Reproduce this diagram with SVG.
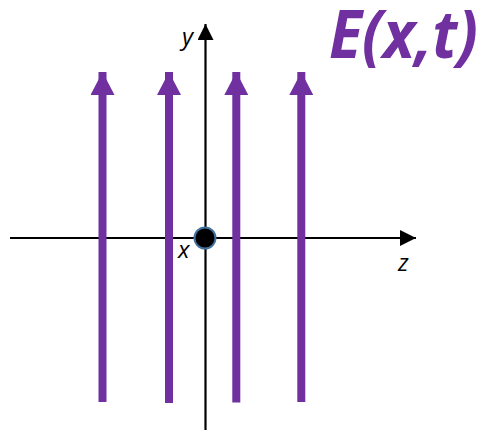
<svg xmlns="http://www.w3.org/2000/svg" width="487" height="432" viewBox="0 0 487 432">
<style>
.ax{stroke:#000;stroke-width:2.2;fill:none}
.fld{stroke:#7030A0;stroke-width:8;fill:none}
.lbl{font-family:"Open Sans","Liberation Sans",sans-serif;font-style:italic;font-size:24px;fill:#000}
.title{font-family:"Open Sans","Liberation Sans",sans-serif;font-style:italic;font-weight:bold;font-size:66px;fill:#7030A0}
</style>
<defs>
<marker id="ah" markerUnits="userSpaceOnUse" markerWidth="17" markerHeight="16" refX="16" refY="8" orient="auto"><path d="M0,0 L16,8 L0,16 Z" fill="#000"/></marker>
<marker id="ph" markerUnits="userSpaceOnUse" markerWidth="24" markerHeight="24" refX="23" refY="12" orient="auto"><path d="M0,0 L23,12 L0,24 Z" fill="#7030A0"/></marker>
</defs>
<g id="connectors">
<line id="z-axis" class="ax" x1="10" y1="238" x2="416" y2="238" marker-end="url(#ah)"/>
<line id="y-axis" class="ax" x1="205.5" y1="430" x2="205.5" y2="24" marker-end="url(#ah)"/>
<line id="e1" class="fld" x1="102.5" y1="402" x2="102.5" y2="72" marker-end="url(#ph)"/>
<line id="e2" class="fld" x1="169" y1="403" x2="169" y2="72" marker-end="url(#ph)"/>
<line id="e3" class="fld" x1="236.3" y1="402.5" x2="236.3" y2="72" marker-end="url(#ph)"/>
<line id="e4" class="fld" x1="301.3" y1="402" x2="301.3" y2="72" marker-end="url(#ph)"/>
</g>
<g id="origin">
<circle cx="205" cy="238" r="10.5" fill="#000" stroke="#41719C" stroke-width="2"/>
</g>
<g id="labels">
<text class="lbl" x="182" y="45">y</text>
<text class="lbl" x="178" y="258">x</text>
<text class="lbl" x="398" y="271">z</text>
<text class="title" x="329" y="58" textLength="149" lengthAdjust="spacingAndGlyphs">E(x,t)</text>
</g>
</svg>
